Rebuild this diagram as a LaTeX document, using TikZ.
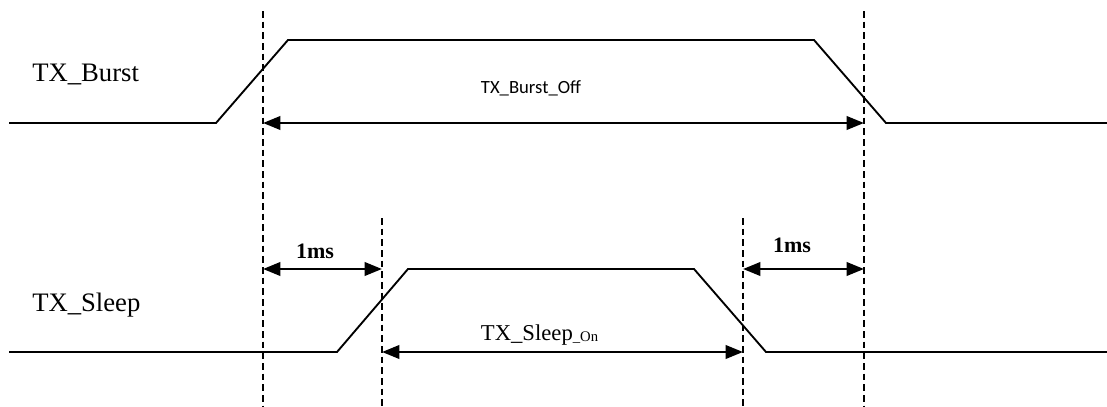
\documentclass[tikz,border=0pt]{standalone}
\usepackage{fontspec}
\setmainfont{Liberation Serif}
\newfontfamily\calfont{Carlito}
\usetikzlibrary{arrows.meta}

\begin{document}
\begin{tikzpicture}[x=0.75pt,y=-0.75pt,
  sig/.style={line width=1.4pt},
  guide/.style={line width=1.2pt,dash pattern=on 5pt off 3pt},
  span/.style={line width=2pt,{Triangle[length=13pt,width=10pt]}-{Triangle[length=13pt,width=10pt]}},
  signame/.style={anchor=base west,inner sep=0pt,font=\fontsize{20}{24}\selectfont},
  ms/.style={anchor=base,inner sep=0pt,font=\fontsize{16.5}{20}\selectfont\bfseries}]

\useasboundingbox (0,0) rectangle (1107,407);

% guide lines
\coordinate (a) at (263,123);
\coordinate (b) at (382,352);
\coordinate (c) at (743,352);
\coordinate (d) at (864,123);
\coordinate (a1) at (263,269);
\coordinate (b1) at (382,269);
\coordinate (c1) at (743,269);
\coordinate (d1) at (864,269);

\draw[guide] (263,11) -- (263,407);
\draw[guide] (864,11) -- (864,407);
\draw[guide] (382,218) -- (382,407);
\draw[guide] (743,218) -- (743,407);

% signals
\draw[sig] (9,123) -- (216,123) -- (288,40) -- (814,40) -- (886,123) -- (1107,123);
\draw[sig] (9,352) -- (337,352) -- (408,269) -- (694,269) -- (766,352) -- (1107,352);

\node[signame] (burst) at (32,81) {TX\_Burst};
\node[signame] (sleep) at (32,311) {TX\_Sleep};

% spans
\draw[span] (a) -- (d);
\draw[span] (a1) -- (b1);
\draw[span] (c1) -- (d1);
\draw[span] (b) -- (c);

\node[anchor=base,inner sep=0pt,font=\calfont\fontsize{14}{17}\selectfont] (off) at (531,93) {TX\_Burst\_Off};
\node[anchor=base,inner sep=0pt,font=\fontsize{17}{20}\selectfont] (on) at (539.5,340)
  {TX\_Sleep\raisebox{-1pt}{\fontsize{11}{13}\selectfont\_On}};
\node[ms] (msl) at (315,258) {1ms};
\node[ms] (msr) at (792,252) {1ms};

\end{tikzpicture}
\end{document}
